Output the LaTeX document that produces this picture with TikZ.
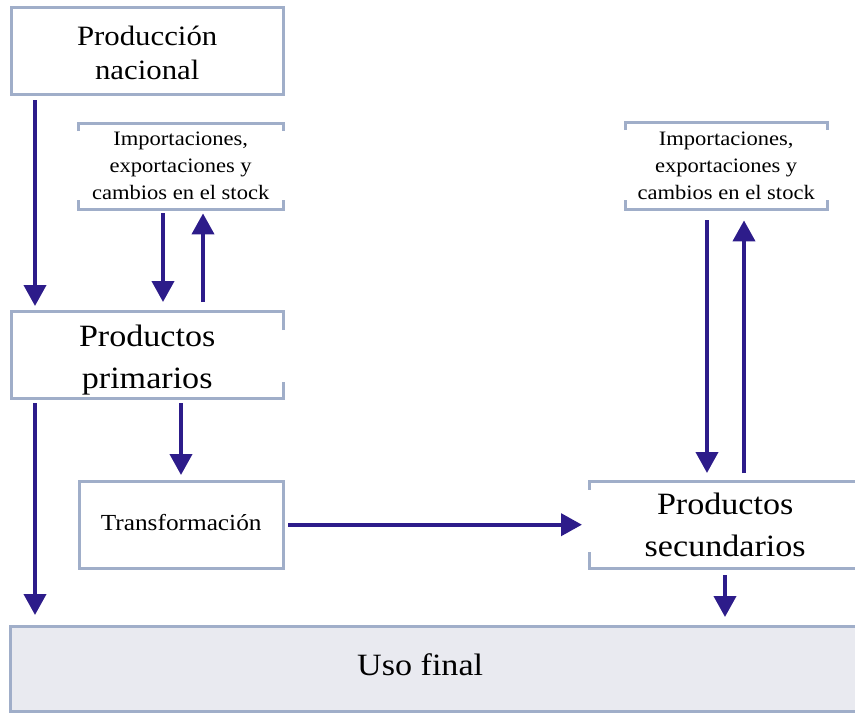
\documentclass[tikz,border=0pt]{standalone}
\usepackage{fontspec}
\setmainfont{Liberation Serif}[FakeStretch=1.1]
\usetikzlibrary{arrows.meta}
\definecolor{bordc}{RGB}{160,174,201}
\definecolor{arrc}{RGB}{45,28,138}
\definecolor{usofill}{RGB}{233,234,240}
\tikzset{
  boxnode/.style={rectangle, inner sep=0pt, align=center, anchor=north west},
  border/.style={draw=bordc, line width=3pt, line join=miter},
  arr/.style={draw=arrc, line width=4pt, -{Triangle[length=21pt,width=22pt]}},
}
\begin{document}
\begin{tikzpicture}[x=1pt,y=-1pt]
\useasboundingbox (0,0) rectangle (855,713);
% nodes
\node[boxnode, minimum width=272pt, minimum height=87pt,
  label={[font=\fontsize{28}{34}\selectfont, align=center, yshift=-2pt]center:{Producción\\nacional}}] (prod) at (11,7) {};
\node[boxnode, minimum width=205pt, minimum height=86pt,
  font=\fontsize{20.5}{27}\selectfont] (impL) at (78,123) {Importaciones,\\exportaciones y\\cambios en el stock};
\node[boxnode, minimum width=272pt, minimum height=87pt,
  label={[font=\fontsize{31}{42}\selectfont, align=center, yshift=-5pt]center:{Productos\\primarios}}] (prim) at (11,311) {};
\node[boxnode, minimum width=204pt, minimum height=87pt,
  label={[font=\fontsize{23}{28}\selectfont, yshift=2pt]center:Transformación}] (trans) at (79,481) {};
\node[boxnode, minimum width=202pt, minimum height=87pt,
  font=\fontsize{20.5}{27}\selectfont] (impR) at (625,122) {Importaciones,\\exportaciones y\\cambios en el stock};
\node[boxnode, minimum width=272pt, minimum height=87pt,
  font=\fontsize{31}{42}\selectfont] (sec) at (589,481) {Productos\\secundarios};
\node[boxnode, minimum width=845pt, minimum height=85pt, fill=usofill,
  label={[font=\fontsize{31}{38}\selectfont, xshift=-12.5pt, yshift=4pt]center:Uso final}] (uso) at (10,626) {};
% borders
\draw[border] (prod.north west) rectangle (prod.south east);
\draw[border] ([yshift=-8pt]impL.north west) -- (impL.north west) -- (impL.north east) -- ([yshift=-8pt]impL.north east);
\draw[border] ([yshift=9pt]impL.south west) -- (impL.south west) -- (impL.south east) -- ([yshift=9pt]impL.south east);
\draw[border] ([yshift=-19pt]prim.north east) -- (prim.north east) -- (prim.north west) -- (prim.south west) -- (prim.south east) -- ([yshift=16pt]prim.south east);
\draw[border] (trans.north west) rectangle (trans.south east);
\draw[border] ([yshift=-8pt]impR.north west) -- (impR.north west) -- (impR.north east) -- ([yshift=-8pt]impR.north east);
\draw[border] ([yshift=9pt]impR.south west) -- (impR.south west) -- (impR.south east) -- ([yshift=9pt]impR.south east);
\draw[border] (sec.north east) -- (sec.north west) -- ([yshift=-9pt]sec.north west);
\draw[border] (sec.south east) -- (sec.south west) -- ([yshift=16pt]sec.south west);
\draw[border] (uso.north east) -- (uso.north west) -- (uso.south west) -- (uso.south east);
% arrows
\draw[arr] ([xshift=24pt,yshift=-6pt]prod.south west) -- ([xshift=24pt,yshift=5pt]prim.north west);
\draw[arr] ([xshift=85pt,yshift=-4pt]impL.south west) -- ([xshift=152pt,yshift=9pt]prim.north west);
\draw[arr] ([xshift=192pt,yshift=9pt]prim.north west) -- ([xshift=125pt,yshift=-4pt]impL.south west);
\draw[arr] ([xshift=24pt,yshift=-5pt]prim.south west) -- ([xshift=25pt,yshift=11pt]uso.north west);
\draw[arr] ([xshift=170pt,yshift=-5pt]prim.south west) -- ([xshift=102pt,yshift=6pt]trans.north west);
\draw[arr] ([xshift=5pt]trans.east) -- ([xshift=-7pt]sec.west);
\draw[arr] ([xshift=82pt,yshift=-11pt]impR.south west) -- ([xshift=118pt,yshift=8pt]sec.north west);
\draw[arr] ([xshift=155pt,yshift=8pt]sec.north west) -- ([xshift=119pt,yshift=-11pt]impR.south west);
\draw[arr] ([xshift=136pt,yshift=-7pt]sec.south west) -- ([xshift=715pt,yshift=9pt]uso.north west);
\end{tikzpicture}
\end{document}
